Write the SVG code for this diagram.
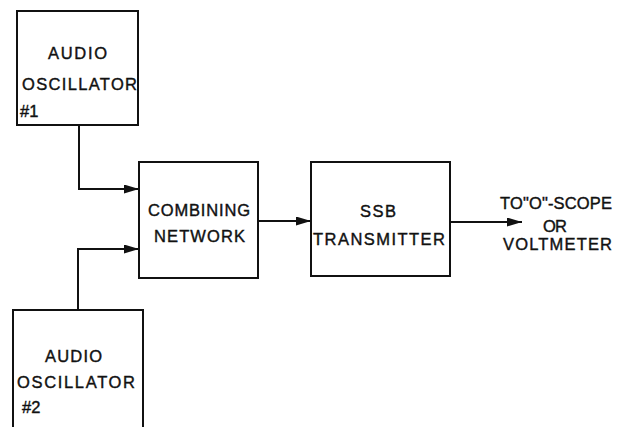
<svg xmlns="http://www.w3.org/2000/svg" width="623" height="427" viewBox="0 0 623 427">
<style>
.box{fill:#fff;stroke:#111;stroke-width:2}
.t{font-family:"Liberation Sans",Arial,sans-serif;font-size:16.5px;fill:#111;stroke:#111;stroke-width:0.4}
.c{fill:none;stroke:#111;stroke-width:2}
</style>
<defs>
<marker id="ah" viewBox="0 0 15 9" refX="15" refY="4.5" markerWidth="15" markerHeight="9" markerUnits="userSpaceOnUse" orient="auto">
<path d="M0,0 L15,4.5 L0,9 z" fill="#111"/>
</marker>
</defs>
<rect width="623" height="427" fill="#fff"/>
<g id="connectors">
<path class="c" d="M79,125 V189 H139" marker-end="url(#ah)"/>
<path class="c" d="M78,310 V249 H139" marker-end="url(#ah)"/>
<path class="c" d="M258,221 H311" marker-end="url(#ah)"/>
<path class="c" d="M450,222 H522" marker-end="url(#ah)"/>
</g>
<g id="osc1">
<rect class="box" x="17" y="11" width="121" height="114"/>
<text class="t" x="48" y="59" textLength="59" lengthAdjust="spacing">AUDIO</text>
<text class="t" x="22" y="90" textLength="115" lengthAdjust="spacing">OSCILLATOR</text>
<text class="t" x="20" y="117">#1</text>
</g>
<g id="osc2">
<rect class="box" x="13" y="310" width="130" height="130"/>
<text class="t" x="45" y="362" textLength="57" lengthAdjust="spacing">AUDIO</text>
<text class="t" x="17" y="388" textLength="118" lengthAdjust="spacing">OSCILLATOR</text>
<text class="t" x="22" y="413">#2</text>
</g>
<g id="combining">
<rect class="box" x="139" y="162" width="119" height="116"/>
<text class="t" x="148" y="216" textLength="102" lengthAdjust="spacing">COMBINING</text>
<text class="t" x="154" y="242" textLength="91" lengthAdjust="spacing">NETWORK</text>
</g>
<g id="ssb">
<rect class="box" x="311" y="162" width="139" height="114"/>
<text class="t" x="360" y="217" textLength="36" lengthAdjust="spacing">SSB</text>
<text class="t" x="313" y="245" textLength="132" lengthAdjust="spacing">TRANSMITTER</text>
</g>
<g id="output">
<text class="t" x="500" y="209" textLength="112" lengthAdjust="spacing">TO"O"-SCOPE</text>
<text class="t" x="543" y="232" textLength="24" lengthAdjust="spacing">OR</text>
<text class="t" x="503" y="250" textLength="109" lengthAdjust="spacing">VOLTMETER</text>
</g>
</svg>
